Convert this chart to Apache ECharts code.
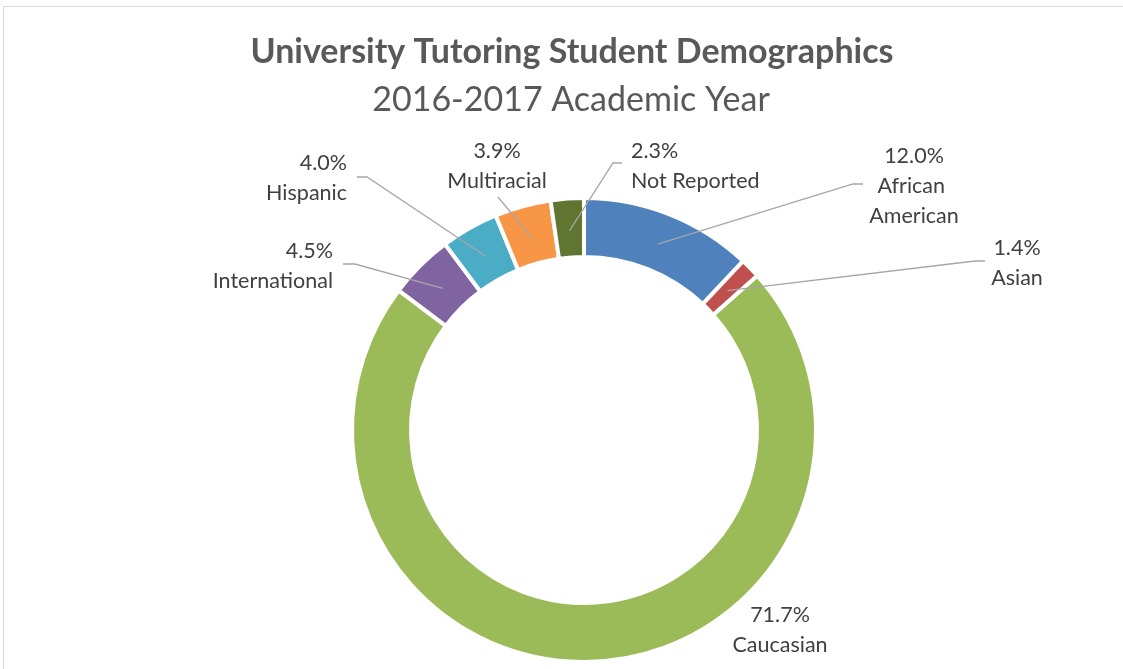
<!DOCTYPE html>
<html><head><meta charset="utf-8">
<script src="https://cdn.jsdelivr.net/npm/echarts@6/dist/echarts.min.js"></script>
<style>
html,body{margin:0;padding:0;background:#fff;overflow:hidden;}
#frame{position:absolute;left:3px;top:6px;width:1130px;height:700px;border:1.5px solid #d9d9d9;box-sizing:border-box;}
#chart{position:absolute;left:0;top:0;width:1123px;height:669px;}
</style></head>
<body><div id="frame"></div><div id="chart"></div>
<script>
// ---- data ----
const categories = ['African American', 'Asian', 'Caucasian', 'International', 'Hispanic', 'Multiracial', 'Not Reported'];
const percents = [12.0, 1.4, 71.7, 4.5, 4.0, 3.9, 2.3];
const titleText = 'University Tutoring Student Demographics';
const subtitleText = '2016-2017 Academic Year';

// ---- style / layout ----
const colors = ['#4F81BD', '#C0504D', '#9BBB59', '#8064A2', '#4BACC6', '#F79646', '#5F7530'];
const FONT = 'Lato, "Open Sans", sans-serif';
const CENTER = [584, 430];
const R_IN = 175, R_OUT = 230, R_LINE = 200;
// label block anchor and leader-line elbow points (layout only)
const labelPlacement = [
  { x: 914, y: 186, align: 'center', elbow: [[853, 184], [863, 184]], wrap: 100 },
  { x: 1017, y: 263, align: 'center', elbow: [[975, 261], [985, 261]] },
  { x: 780, y: 630, align: 'center', elbow: null },
  { x: 333, y: 266, align: 'right', elbow: [[355, 264], [343, 264]] },
  { x: 347, y: 178, align: 'right', elbow: [[367, 177], [357, 177]] },
  { x: 497, y: 166, align: 'center', elbow: [[498, 197], [498, 197]] },
  { x: 631, y: 166, align: 'left', elbow: [[613, 163], [622, 163]] }
];

const total = percents.reduce((a, b) => a + b, 0);
function leaderStart(i) {
  let before = 0;
  for (let k = 0; k < i; k++) before += percents[k];
  const mid = (before + percents[i] / 2) / total * Math.PI * 2;
  return [CENTER[0] + R_LINE * Math.sin(mid), CENTER[1] - R_LINE * Math.cos(mid)];
}

const chart = echarts.init(document.getElementById('chart'), null, { renderer: 'canvas' });
chart.setOption({
  backgroundColor: 'transparent',
  animation: false,
  title: [
    { text: titleText, left: 567, textAlign: 'center', top: 30,
      textStyle: { fontFamily: FONT, fontSize: 34, fontWeight: 'bold', color: '#595959' } },
    { text: subtitleText, left: 566, textAlign: 'center', top: 78,
      textStyle: { fontFamily: FONT, fontSize: 34, fontWeight: 'normal', color: '#595959' } }
  ],
  series: [{
    type: 'pie',
    z: 2,
    center: CENTER,
    radius: [R_IN - 2, R_OUT + 2],
    startAngle: 90,
    clockwise: true,
    silent: true,
    itemStyle: { borderColor: '#ffffff', borderWidth: 4 },
    label: { show: false },
    labelLine: { show: false },
    data: categories.map((name, i) => ({ name: name, value: percents[i], itemStyle: { color: colors[i] } }))
  }, {
    type: 'pie',
    z: 5,
    center: CENTER,
    radius: [R_IN - 2, R_OUT + 2],
    startAngle: 90,
    clockwise: true,
    silent: true,
    avoidLabelOverlap: false,
    itemStyle: { color: 'rgba(0,0,0,0)', borderWidth: 0 },
    label: {
      show: true,
      fontFamily: FONT, fontSize: 21.5, color: '#404040', lineHeight: 30,
      formatter: p => p.value.toFixed(1) + '%\n' + p.name
    },
    labelLine: { show: true, lineStyle: { color: '#a6a6a6', width: 1.3 } },
    labelLayout: function (params) {
      const i = params.dataIndex;
      const lp = labelPlacement[i];
      const res = { x: lp.x, y: lp.y, align: lp.align, verticalAlign: 'middle' };
      const s = leaderStart(i);
      res.labelLinePoints = lp.elbow ? [s, lp.elbow[0], lp.elbow[1]] : [s, s, s];
      return res;
    },
    data: categories.map((name, i) => ({
      name: name,
      value: percents[i],
      label: labelPlacement[i].wrap ? { width: labelPlacement[i].wrap, overflow: 'break', align: 'center' } : {},
      labelLine: { show: !!labelPlacement[i].elbow }
    }))
  }]
});
</script>
</body></html>
